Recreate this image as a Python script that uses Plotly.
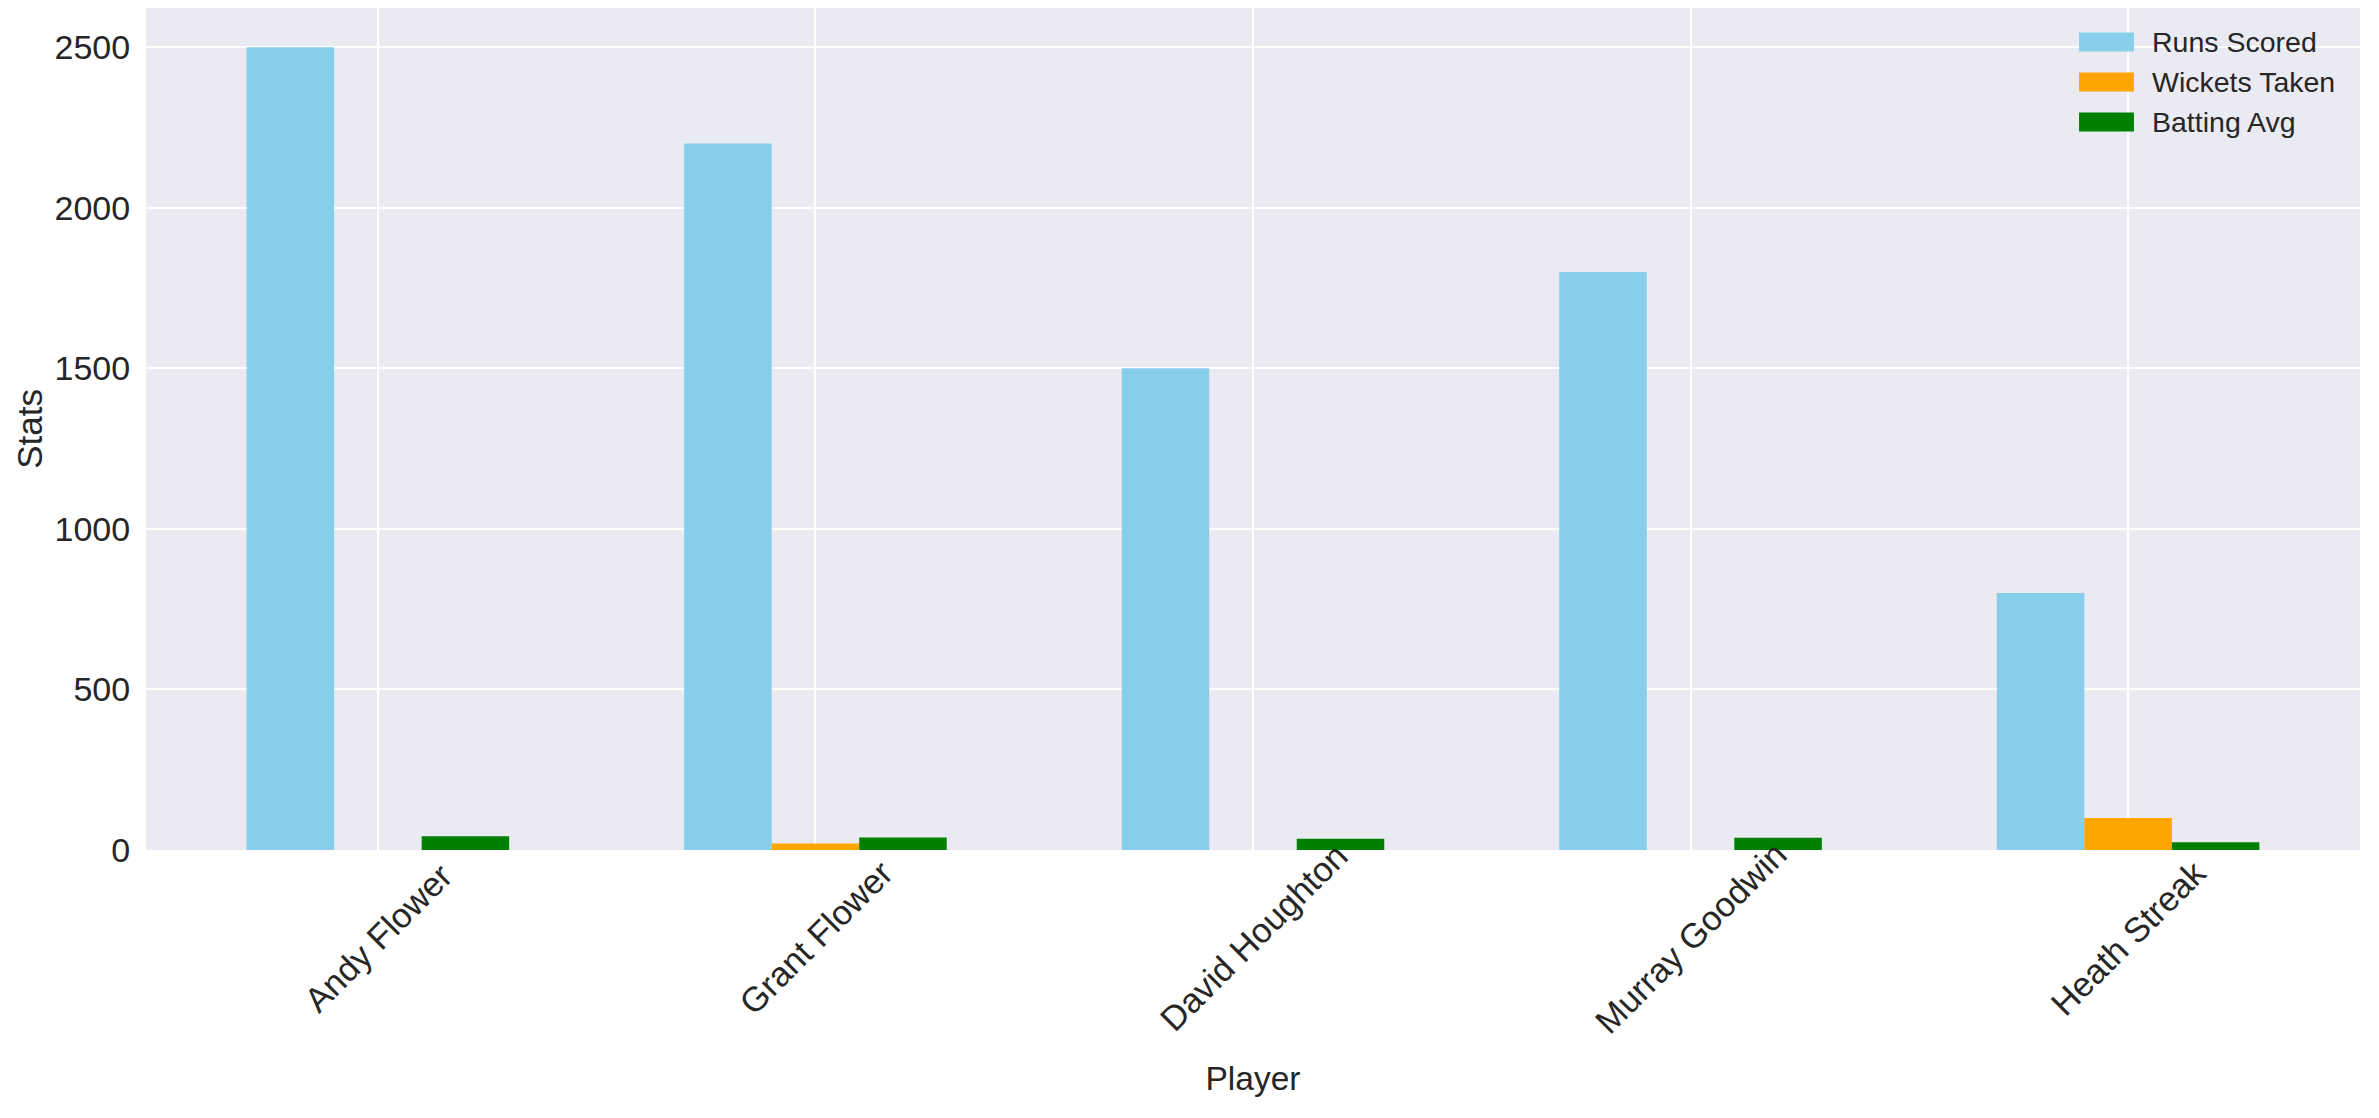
import plotly.graph_objects as go

players = ["Andy Flower", "Grant Flower", "David Houghton", "Murray Goodwin", "Heath Streak"]
runs_scored = [2500, 2200, 1500, 1800, 800]
wickets_taken = [0, 20, 0, 0, 100]
batting_avg = [43, 39, 35, 38, 24]

series_names = ["Runs Scored", "Wickets Taken", "Batting Avg"]
series_values = [runs_scored, wickets_taken, batting_avg]
series_colors = ["#87CEEB", "#FFA500", "#008000"]

TEXT = "#262626"
FONT = "Liberation Sans, Arial, sans-serif"

fig = go.Figure()
for name, vals, col in zip(series_names, series_values, series_colors):
    fig.add_trace(go.Bar(x=players, y=vals, name=name,
                         marker=dict(color=col, line=dict(width=0)), showlegend=False))

# category tick labels, rotated 45 deg and centred on the tick (matplotlib style)
for p in players:
    fig.add_annotation(x=p, xref="x", y=-0.104, yref="paper", text=p, showarrow=False,
                       textangle=-45, xanchor="center", yanchor="middle",
                       font=dict(size=34.5, color=TEXT, family=FONT))

# legend (patch + label)
leg_y = [0.9596, 0.9121, 0.8646]
for name, col, yy in zip(series_names, series_colors, leg_y):
    fig.add_shape(type="rect", xref="paper", yref="paper",
                  x0=0.8731, x1=0.8979, y0=yy - 0.0113, y1=yy + 0.0113,
                  fillcolor=col, line=dict(width=0))
    fig.add_annotation(x=0.9050, y=yy, xref="paper", yref="paper", text=name,
                       showarrow=False, xanchor="left", yanchor="middle",
                       font=dict(size=28.5, color=TEXT, family=FONT))

fig.update_layout(
    width=2371, height=1110,
    margin=dict(l=138, r=19, t=0, b=268, autoexpand=False),
    paper_bgcolor="white", plot_bgcolor="#EAEAF2",
    barmode="group", bargap=0.4, bargroupgap=0,
    font=dict(family=FONT, color=TEXT),
    showlegend=False,
)
fig.update_xaxes(range=[-0.53, 4.53], showgrid=True, gridcolor="white", gridwidth=1.5,
                 showticklabels=False, zeroline=False, showline=False,
                 title=dict(text="Player", font=dict(size=33.5, color=TEXT), standoff=216))
fig.update_yaxes(range=[0, 2622], tickvals=[0, 500, 1000, 1500, 2000, 2500],
                 showgrid=True, gridcolor="white", gridwidth=1.5, zeroline=False,
                 ticks="outside", ticklen=8, tickcolor="rgba(0,0,0,0)",
                 tickfont=dict(size=34, color=TEXT),
                 title=dict(text="Stats", font=dict(size=35, color=TEXT), standoff=1))

fig.write_html("out.html")
